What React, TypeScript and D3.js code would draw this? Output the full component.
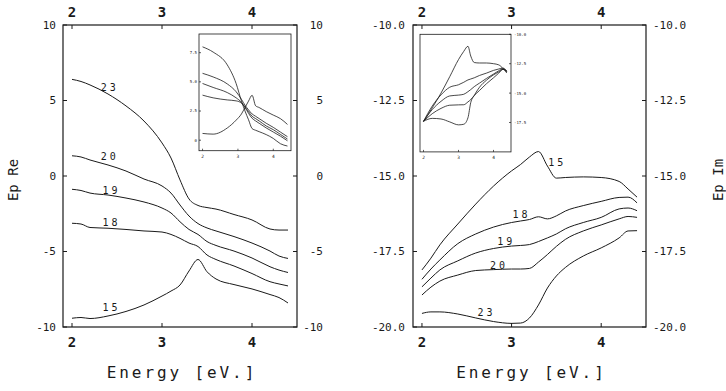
import React from 'react';
import * as d3 from 'd3';

// photon energy grid (eV) shared by the main curves
const energy = [2.0, 2.1, 2.2, 2.4, 2.6, 2.8, 3.0, 3.1, 3.2, 3.3, 3.4, 3.5, 3.6, 3.8, 4.0, 4.2, 4.3, 4.4];

// Ep Re, left panel
const re23 = [6.40, 6.26, 6.03, 5.43, 4.64, 3.64, 2.19, 1.19, -0.26, -1.52, -1.95, -2.09, -2.19, -2.55, -2.91, -3.51, -3.58, -3.58];
const re20 = [1.34, 1.26, 1.06, 0.73, 0.33, -0.20, -0.66, -1.13, -1.92, -2.65, -3.15, -3.44, -3.64, -4.01, -4.44, -4.97, -5.30, -5.46];
const re19 = [-0.88, -0.96, -1.13, -1.26, -1.46, -1.72, -2.12, -2.45, -3.03, -3.54, -3.87, -4.34, -4.60, -4.97, -5.43, -6.01, -6.23, -6.39];
const re18 = [-3.13, -3.18, -3.41, -3.46, -3.54, -3.64, -3.71, -3.87, -4.13, -4.44, -4.67, -5.23, -5.53, -5.96, -6.46, -7.00, -7.15, -7.28];
const re15 = [-9.42, -9.37, -9.44, -9.27, -8.97, -8.54, -7.95, -7.62, -7.22, -6.29, -5.53, -6.34, -6.82, -7.19, -7.48, -7.85, -8.05, -8.41];

// Ep Im, right panel
const im15 = [-18.11, -17.72, -17.28, -16.59, -15.93, -15.33, -14.83, -14.62, -14.37, -14.19, -14.67, -15.07, -15.05, -15.03, -15.05, -15.18, -15.43, -15.70];
const im18 = [-18.42, -18.08, -17.78, -17.24, -16.92, -16.69, -16.54, -16.49, -16.44, -16.35, -16.42, -16.32, -16.16, -15.98, -15.84, -15.71, -15.70, -15.89];
const im19 = [-18.67, -18.38, -18.11, -17.81, -17.55, -17.40, -17.32, -17.30, -17.27, -17.17, -17.05, -16.92, -16.75, -16.54, -16.37, -16.09, -16.06, -16.15];
const im20 = [-18.94, -18.68, -18.48, -18.28, -18.13, -18.10, -18.08, -18.08, -18.06, -17.85, -17.60, -17.33, -17.10, -16.82, -16.62, -16.42, -16.34, -16.37];
const im23 = [-19.55, -19.50, -19.50, -19.57, -19.70, -19.82, -19.88, -19.87, -19.70, -19.27, -18.71, -18.31, -18.03, -17.65, -17.38, -17.05, -16.82, -16.81];

// curve labels: [text, energy, value]
const reLabels: [string, number, number][] = [
  ['23', 2.42, 5.89], ['20', 2.42, 1.26], ['19', 2.44, -0.93], ['18', 2.44, -3.11], ['15', 2.44, -8.74],
];
const imLabels: [string, number, number][] = [
  ['15', 3.51, -14.54], ['18', 3.11, -16.26], ['19', 2.94, -17.17], ['20', 2.86, -17.95], ['23', 2.72, -19.52],
];

// inset of the left panel
const insetReE = [2.0, 2.3, 2.7, 2.95, 3.1, 3.2, 3.3, 3.4, 3.5, 3.6, 3.8, 4.0, 4.2, 4.4];
const insetRe23 = [8.0, 7.55, 6.45, 4.85, 3.35, 2.5, 1.75, 1.0, 0.85, 0.73, 0.48, 0.15, -0.3, -0.5];
const insetRe20 = [5.73, 5.42, 4.82, 4.15, 3.5, 3.0, 2.6, 2.25, 2.05, 1.85, 1.45, 1.1, 0.7, 0.3];
const insetRe19 = [4.86, 4.52, 4.08, 3.63, 3.25, 2.85, 2.45, 2.05, 1.85, 1.65, 1.22, 0.9, 0.5, 0.1];
const insetRe18 = [3.86, 3.63, 3.45, 3.37, 3.18, 2.8, 2.3, 1.88, 1.65, 1.45, 1.05, 0.7, 0.35, -0.05];
const insetRe15 = [0.58, 0.52, 1.05, 1.72, 2.25, 2.8, 3.35, 3.85, 2.95, 2.8, 2.45, 2.15, 1.85, 1.35];

// inset of the right panel
const insetImE = [2.0, 2.25, 2.5, 2.75, 3.0, 3.15, 3.27, 3.35, 3.45, 3.6, 3.8, 4.0, 4.15, 4.27, 4.38];
const insetIm15 = [-17.42, -16.25, -15.0, -13.6, -12.15, -11.45, -11.02, -11.85, -12.4, -12.44, -12.44, -12.5, -12.6, -12.9, -13.29];
const insetIm18 = [-17.4, -16.1, -15.15, -14.5, -14.29, -14.08, -13.88, -13.8, -13.7, -13.5, -13.3, -13.07, -12.95, -12.87, -13.15];
const insetIm19 = [-17.4, -16.4, -15.7, -15.24, -15.17, -15.1, -14.88, -14.7, -14.45, -14.15, -13.75, -13.38, -13.1, -12.93, -13.15];
const insetIm20 = [-17.4, -16.75, -16.3, -16.03, -16.0, -15.99, -15.75, -15.55, -15.2, -14.78, -14.2, -13.7, -13.3, -12.98, -13.15];
const insetIm23 = [-17.4, -17.15, -17.2, -17.45, -17.7, -17.65, -17.1, -15.8, -15.2, -14.5, -13.9, -13.45, -13.2, -12.98, -13.15];

const xTicks = [2, 3, 4];
const reTicks = [10, 5, 0, -5, -10];
const imTicks = [-10, -12.5, -15, -17.5, -20];
const insetReTicks = [0, 2.5, 5, 7.5];
const insetImTicks = [-10, -12.5, -15, -17.5];

const FONT = "'DejaVu Sans Mono', monospace";
const INK = '#1a1a1a';

type Box = { x0: number; x1: number; y0: number; y1: number };

const Curves = ({ xs, ys, x, y, width }: any) => {
  const line = d3.line<number>()
    .x((_, i) => x(xs[i]))
    .y((v) => y(v))
    .curve(d3.curveMonotoneX);
  return (
    <g fill="none" stroke={INK} strokeWidth={width}>
      {ys.map((vals: number[], i: number) => <path key={i} d={line(vals) || ''} />)}
    </g>
  );
};

const Inset = ({ box, yDomain, yTicks, fmt, xs, ys, labelSide }: any) => {
  const x = d3.scaleLinear().domain([1.9, 4.5]).range([box.x0, box.x1]);
  const y = d3.scaleLinear().domain(yDomain).range([box.y1, box.y0]);
  const lx = labelSide === 'left' ? box.x0 - 2 : box.x1 + 3;
  return (
    <g>
      <rect x={box.x0} y={box.y0} width={box.x1 - box.x0} height={box.y1 - box.y0}
        fill="#fff" stroke={INK} strokeWidth={0.8} />
      {xTicks.map((t) => (
        <g key={t}>
          <line x1={x(t)} x2={x(t)} y1={box.y1} y2={box.y1 - 2} stroke={INK} strokeWidth={0.7} />
          <text x={x(t)} y={box.y1 + 7} fontSize={4.5} textAnchor="middle" fill={INK} fontFamily={FONT}>{t}</text>
        </g>
      ))}
      {yTicks.map((t: number) => (
        <g key={t}>
          <line x1={labelSide === 'left' ? box.x0 : box.x1} x2={labelSide === 'left' ? box.x0 + 2 : box.x1 - 2}
            y1={y(t)} y2={y(t)} stroke={INK} strokeWidth={0.7} />
          <text x={lx} y={y(t)} dy="0.35em" fontSize={4} fill={INK} fontFamily={FONT}
            textAnchor={labelSide === 'left' ? 'end' : 'start'}>{fmt(t)}</text>
        </g>
      ))}
      <Curves xs={xs} ys={ys} x={x} y={y} width={0.8} />
    </g>
  );
};

const Panel = ({ box, yDomain, yTicks, fmt, series, labels, leftLabelX, rightLabelX, rightAnchor }: any) => {
  const x = d3.scaleLinear().domain([1.9, 4.5]).range([box.x0, box.x1]);
  const y = d3.scaleLinear().domain(yDomain).range([box.y1, box.y0]);
  const tk = 4;
  return (
    <g>
      <rect x={box.x0} y={box.y0} width={box.x1 - box.x0} height={box.y1 - box.y0}
        fill="none" stroke={INK} strokeWidth={1.2} />
      {xTicks.map((t) => (
        <g key={t} fontFamily={FONT} fontSize={14} fontWeight="bold" fill={INK} textAnchor="middle">
          <line x1={x(t)} x2={x(t)} y1={box.y0} y2={box.y0 + tk} stroke={INK} />
          <line x1={x(t)} x2={x(t)} y1={box.y1} y2={box.y1 - tk} stroke={INK} />
          <text x={x(t)} y={box.y0 - 8}>{t}</text>
          <text x={x(t)} y={box.y1 + 20}>{t}</text>
        </g>
      ))}
      {yTicks.map((t: number) => (
        <g key={t} fontFamily={FONT} fontSize={11} fill={INK}>
          <line x1={box.x0} x2={box.x0 + tk} y1={y(t)} y2={y(t)} stroke={INK} />
          <line x1={box.x1} x2={box.x1 - tk} y1={y(t)} y2={y(t)} stroke={INK} />
          <text x={leftLabelX} y={y(t)} dy="0.35em" textAnchor="end">{fmt(t)}</text>
          <text x={rightLabelX} y={y(t)} dy="0.35em" textAnchor={rightAnchor}>{fmt(t)}</text>
        </g>
      ))}
      <Curves xs={energy} ys={series} x={x} y={y} width={1} />
      {labels.map(([s, e, v]: [string, number, number]) => (
        <text key={s} x={x(e)} y={y(v)} dy="0.35em" textAnchor="middle" fontFamily={FONT}
          fontSize={10} letterSpacing={3} fill={INK}>{s}</text>
      ))}
      <text x={(box.x0 + box.x1) / 2 + 2} y={378} textAnchor="middle" fontFamily={FONT}
        fontSize={16} letterSpacing={2.9} fill={INK}>Energy [eV.]</text>
    </g>
  );
};

export default function App() {
  const left: Box = { x0: 63, x1: 297, y0: 25, y1: 327 };
  const right: Box = { x0: 413, x1: 646, y0: 25, y1: 327 };
  return (
    <svg width={726} height={391} viewBox="0 0 726 391"
      style={{ position: 'absolute', left: 0, top: 0, background: '#fff' }}>
      <rect width={726} height={391} fill="#fff" />
      <Panel box={left} yDomain={[-10, 10]} yTicks={reTicks} fmt={(t: number) => `${t}`}
        series={[re23, re20, re19, re18, re15]} labels={reLabels}
        leftLabelX={56} rightLabelX={323} rightAnchor="end" />
      <Inset box={{ x0: 199, x1: 291, y0: 34, y1: 150.7 }} yDomain={[-0.9, 9.1]} yTicks={insetReTicks}
        fmt={(t: number) => (t === 0 ? '0' : t.toFixed(1))} xs={insetReE}
        ys={[insetRe23, insetRe20, insetRe19, insetRe18, insetRe15]} labelSide="left" />
      <Panel box={right} yDomain={[-20, -10]} yTicks={imTicks} fmt={(t: number) => t.toFixed(1)}
        series={[im15, im18, im19, im20, im23]} labels={imLabels}
        leftLabelX={405} rightLabelX={653} rightAnchor="start" />
      <Inset box={{ x0: 420, x1: 511, y0: 34.3, y1: 151.9 }} yDomain={[-20, -10]} yTicks={insetImTicks}
        fmt={(t: number) => t.toFixed(1)} xs={insetImE}
        ys={[insetIm15, insetIm18, insetIm19, insetIm20, insetIm23]} labelSide="right" />
      <text transform="translate(18,180) rotate(-90)" textAnchor="middle" fontFamily={FONT}
        fontSize={14} fill={INK}>Ep Re</text>
      <text transform="translate(723,180) rotate(-90)" textAnchor="middle" fontFamily={FONT}
        fontSize={14} fill={INK}>Ep Im</text>
    </svg>
  );
}
